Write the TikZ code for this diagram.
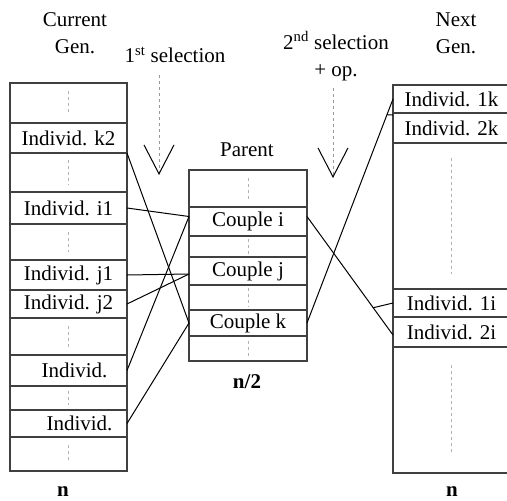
\documentclass[tikz,border=0pt]{standalone}
\usepackage{fontspec}
\setmainfont{Liberation Serif}
\usetikzlibrary{arrows.meta,calc}

\begin{document}
\begin{tikzpicture}[x=1pt,y=-1pt,font=\fontsize{21}{27}\selectfont]
	\tikzstyle{slot} = [draw=black!75, line width=1.2pt, rectangle, inner sep=0pt, outer sep=0pt, minimum width=117pt]
	\tikzstyle{gap} = [draw=black!30, dashed, line width=0.6pt]
	\tikzstyle{sel} = [draw=black!40, dashed, line width=0.6pt, -{Straight Barb[length=29pt,width=30pt,color=black,line width=1pt]}]
	\tikzstyle{link} = [draw=black, line width=1pt]

	\useasboundingbox (0,0) rectangle (507,501);

	\draw (75,33) node[align=center] (cur) {Current\\Gen.};
	\draw (456,33) node[align=center] (nxt) {Next\\Gen.};
	\draw (175,55) node (sel1) {1\textsuperscript{st} selection};
	\draw (336,56) node[align=center] (sel2) {2\textsuperscript{nd} selection\\+ op.};
	\draw (247,150) node (par) {Parent};

	\draw (68.5,103) node[slot, minimum height=40pt] (lc0) {};
	\draw (68.5,138) node[slot, minimum height=30pt] (lk2) {Individ. k2};
	\draw (68.5,172.5) node[slot, minimum height=39pt] (lc1) {};
	\draw (68.5,208) node[slot, minimum height=32pt] (li1) {Individ. i1};
	\draw (68.5,242) node[slot, minimum height=36pt] (lc2) {};
	\draw (68.5,275) node[slot, minimum height=30pt] (lj1) {Individ. j1};
	\draw (68.5,304) node[slot, minimum height=28pt] (lj2) {Individ. j2};
	\draw (68.5,336.5) node[slot, minimum height=37pt] (lc3) {};
	\draw (68.5,370.5) node[slot, minimum height=31pt] (la) {\hspace*{12pt}Individ.};
	\draw (68.5,398) node[slot, minimum height=24pt] (lc4) {};
	\draw (68.5,423.5) node[slot, minimum height=27pt] (lb) {\hspace*{22pt}Individ.};
	\draw (68.5,454) node[slot, minimum height=34pt] (lc5) {};

	\draw (248,188.5) node[slot, minimum width=118pt, minimum height=37pt] (mc0) {};
	\draw (248,221.5) node[slot, minimum width=118pt, minimum height=29pt] (mi) {Couple i};
	\draw (248,246.5) node[slot, minimum width=118pt, minimum height=21pt] (mc1) {};
	\draw (248,271) node[slot, minimum width=118pt, minimum height=28pt] (mj) {Couple j};
	\draw (248,297.5) node[slot, minimum width=118pt, minimum height=25pt] (mc2) {};
	\draw (248,323) node[slot, minimum width=118pt, minimum height=26pt] (mk) {Couple k};
	\draw (248,348.5) node[slot, minimum width=118pt, minimum height=25pt] (mc3) {};

	\draw (451.5,99) node[slot, minimum height=28pt] (n1k) {Individ. 1k};
	\draw (451.5,128) node[slot, minimum height=30pt] (n2k) {Individ. 2k};
	\draw (451.5,216) node[slot, minimum height=146pt] (rc0) {};
	\draw (451.5,303) node[slot, minimum height=28pt] (n1i) {Individ. 1i};
	\draw (451.5,332) node[slot, minimum height=30pt] (n2i) {Individ. 2i};
	\draw (451.5,410) node[slot, minimum height=126pt] (rc1) {};

	\draw (63,492) node[font=\fontsize{21}{27}\selectfont\bfseries] (nl) {n};
	\draw (247,382) node[font=\fontsize{21}{27}\selectfont\bfseries] (nh) {n/2};
	\draw (452,492) node[font=\fontsize{21}{27}\selectfont\bfseries] (nr) {n};

	\foreach \c/\s in {lc0/8,lc1/7,lc2/8,lc3/8,lc4/5,lc5/8,mc0/8,mc1/3,mc2/3,mc3/5,rc0/15,rc1/18}
		\draw[gap, shorten <=\s pt, shorten >=\s pt] (\c.north) -- (\c.south);

	\coordinate (s1) at (159,75);
	\coordinate (t1) at (159,175);
	\coordinate (s2) at (333,88);
	\coordinate (t2) at (333,178);
	\draw[sel] (s1) -- (t1);
	\draw[sel] (s2) -- (t2);

	\coordinate (mi1) at ([yshift=5pt]mi.west);
	\coordinate (mi2) at ([yshift=5pt]mi.east);
	\coordinate (mj1) at ([yshift=-3pt]mj.west);
	\coordinate (n2i1) at ([yshift=-3pt]n2i.west);

	\draw[link] (lk2.south east) -- (mk.west);
	\draw[link] (li1.east) -- (mi1);
	\draw[link] (lj1.east) -- (mj1);
	\draw[link] (lj2.east) -- (mj1);
	\draw[link] (la.east) -- (mi1);
	\draw[link] (lb.east) -- (mk.west);

	\draw[link] (mi2) -- (n2i1);
	\draw[link] ($(mi2)!0.77!(n2i1)$) -- (n1i.west);
	\draw[link] (mk.east) -- (n1k.west);
	\draw[link] ($(mk.east)!0.93!(n1k.west)$) -- ([yshift=-2pt]n2k.north west);
\end{tikzpicture}
\end{document}
